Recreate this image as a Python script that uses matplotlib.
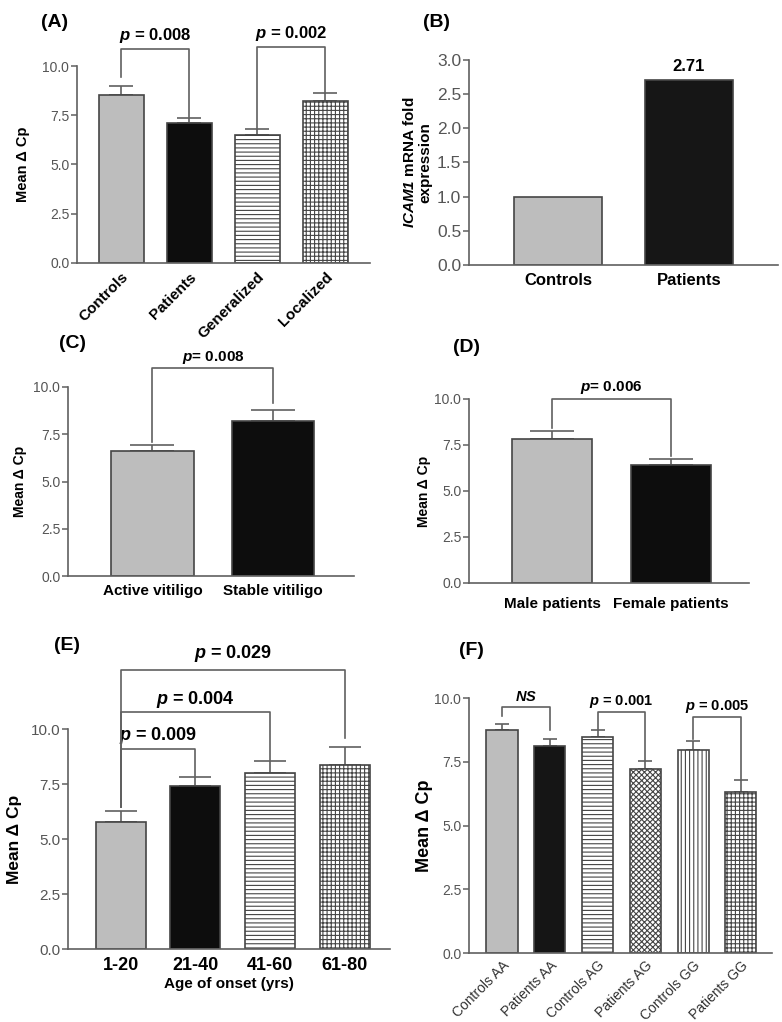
import matplotlib
matplotlib.use("Agg")
import matplotlib.pyplot as plt
import numpy as np

plt.rcParams['font.family'] = ['Liberation Sans', 'DejaVu Sans']
plt.rcParams['mathtext.fontset'] = 'custom'
plt.rcParams['mathtext.rm'] = 'Liberation Sans'
plt.rcParams['mathtext.it'] = 'Liberation Sans:italic'
plt.rcParams['mathtext.bf'] = 'Liberation Sans:bold'
plt.rcParams['mathtext.bfit'] = 'Liberation Sans:italic:bold'
plt.rcParams['hatch.color'] = '#555555'
plt.rcParams['hatch.linewidth'] = 0.8

GRAY = '#bdbdbd'
BLACK = '#0d0d0d'
LINE = '#606060'
EDGE = '#454545'

# (A) all groups
a_labels = ["Controls", "Patients", "Generalized", "Localized"]
a_means = [8.52, 7.12, 6.48, 8.20]
a_sem = [0.48, 0.24, 0.30, 0.42]
a_pairs = [(0, 1), (2, 3)]
a_bracket_y = [10.86, 10.96]
a_legs = [(9.45, 7.40), (6.80, 8.65)]
a_pvals = ["0.008", "0.002"]

# (B) fold expression
b_labels = ["Controls", "Patients"]
b_fold = [1.0, 2.71]

# (C) activity
c_labels = ["Active vitiligo", "Stable vitiligo"]
c_means = [6.62, 8.20]
c_sem = [0.32, 0.58]
c_pairs = [(0, 1)]
c_bracket_y = [11.0]
c_legs = [(7.10, 9.15)]
c_pvals = ["0.008"]

# (D) gender
d_labels = ["Male patients", "Female patients"]
d_means = [7.85, 6.43]
d_sem = [0.40, 0.32]
d_pairs = [(0, 1)]
d_bracket_y = [10.0]
d_legs = [(8.40, 6.90)]
d_pvals = ["0.006"]

# (E) age of onset
e_labels = ["1-20", "21-40", "41-60", "61-80"]
e_means = [5.78, 7.42, 8.00, 8.35]
e_sem = [0.50, 0.38, 0.55, 0.85]
e_pairs = [(0, 1), (0, 2), (0, 3)]
e_bracket_y = [9.09, 10.77, 12.70]
e_legs = [(6.45, 7.85), (6.45, 8.60), (6.45, 9.60)]
e_pvals = ["0.009", "0.004", "0.029"]

# (F) genotypes
f_labels = ["Controls AA", "Patients AA", "Controls AG", "Patients AG", "Controls GG", "Patients GG"]
f_means = [8.75, 8.12, 8.48, 7.22, 7.98, 6.32]
f_sem = [0.25, 0.28, 0.27, 0.30, 0.35, 0.45]
f_pairs = [(0, 1), (2, 3), (4, 5)]
f_bracket_y = [9.65, 9.45, 9.25]
f_legs = [(9.30, 8.75), (8.75, 7.52), (8.38, 6.80)]
f_pvals = [None, "0.001", "0.005"]


def style_axis(ax, ymax, step, size, xlim):
  ax.set_xlim(*xlim)
  ax.set_ylim(0, ymax)
  ax.set_yticks(np.arange(0, ymax + step / 2, step))
  ax.yaxis.set_major_formatter('{x:.1f}')
  for s in ['top', 'right']:
    ax.spines[s].set_visible(False)
  for s in ['left', 'bottom']:
    ax.spines[s].set_color(LINE)
    ax.spines[s].set_linewidth(1.2)
  ax.tick_params(axis='y', colors=LINE, labelcolor='#555555', labelsize=size, length=4, width=1.1, pad=1.5)
  ax.tick_params(axis='x', length=0)


def draw_bars(ax, means, sem, colors, hatches, width, capsize):
  x = np.arange(len(means))
  bars = ax.bar(x, means, width, color=colors, edgecolor=EDGE, linewidth=1.2, zorder=2)
  for b, h in zip(bars, hatches):
    if h:
      b.set_hatch(h)
  if sem is not None:
    ax.errorbar(x, means, yerr=[np.zeros(len(x)), sem], fmt='none', ecolor=LINE,
                elinewidth=1.2, capsize=capsize, capthick=1.2, zorder=1)
  return x


def draw_brackets(ax, pairs, ys, legs, texts, size, offsets, eq=" = "):
  for (i, j), y, (yl, yr), t, off in zip(pairs, ys, legs, texts, offsets):
    ax.plot([i, i, j, j], [yl, y, y, yr], color=LINE, lw=1.2, clip_on=False, zorder=3)
    if t is None:
      label = r"$\mathbfit{NS}$"
    else:
      label = r"$\mathbfit{p}$" + eq + t
    ax.text((i + j) / 2, y + off, label, ha='center', va='center', fontsize=size,
            fontweight='bold', clip_on=False)


fig = plt.figure(figsize=(7.82, 10.22), dpi=100)
W, H = 782.0, 1022.0


def axes_at(x0, x1, ytop, ybot):
  return fig.add_axes([x0 / W, 1 - ybot / H, (x1 - x0) / W, (ybot - ytop) / H])


# ---- (A)
ax = axes_at(77, 370, 66, 263)
x = draw_bars(ax, a_means, a_sem, [GRAY, BLACK, 'white', 'white'], [None, None, '----', '++++'], 0.66, 8.3)
style_axis(ax, 10, 2.5, 10, (-0.65, 3.66))
ax.set_xticks(x)
ax.set_xticklabels(a_labels, rotation=45, ha='right', rotation_mode='anchor', fontsize=11, fontweight='bold')
ax.tick_params(axis='x', pad=5)
ax.set_ylabel("Mean \u0394 Cp", fontsize=10.5, fontweight='bold')
ax.yaxis.set_label_coords(-0.16, 0.5)
draw_brackets(ax, a_pairs, a_bracket_y, a_legs, a_pvals, 12, [0.7, 0.7])

# ---- (B)
ax = axes_at(469, 778, 60, 265)
x = draw_bars(ax, b_fold, None, [GRAY, '#161616'], [None, None], 0.67, 0)
style_axis(ax, 3, 0.5, 12.5, (-0.68, 1.68))
ax.set_xticks(x)
ax.set_xticklabels(b_labels, fontsize=12, fontweight='bold')
ax.tick_params(axis='x', pad=6)
ax.set_ylabel(r"$\mathbfit{ICAM1}$ mRNA fold" + "\nexpression", fontsize=11, fontweight='bold')
ax.yaxis.set_label_coords(-0.117, 0.5)
ax.text(x[1], b_fold[1] + 0.19, f"{b_fold[1]:.2f}", ha='center', va='center', fontsize=12, fontweight='bold')

# ---- (C)
ax = axes_at(68, 354, 387, 576)
x = draw_bars(ax, c_means, c_sem, [GRAY, BLACK], [None, None], 0.68, 15.5)
style_axis(ax, 10, 2.5, 10, (-0.7, 1.67))
ax.set_xticks(x)
ax.set_xticklabels(c_labels, fontsize=11, fontweight='bold')
ax.tick_params(axis='x', pad=6)
ax.set_ylabel("Mean \u0394 Cp", fontsize=10, fontweight='bold')
ax.yaxis.set_label_coords(-0.143, 0.5)
draw_brackets(ax, c_pairs, c_bracket_y, c_legs, c_pvals, 11, [0.55], eq="= ")

# ---- (D)
ax = axes_at(469, 749, 399, 583)
x = draw_bars(ax, d_means, d_sem, [GRAY, BLACK], [None, None], 0.675, 15.5)
style_axis(ax, 10, 2.5, 10, (-0.7, 1.66))
ax.set_xticks(x)
ax.set_xticklabels(d_labels, fontsize=11, fontweight='bold')
ax.tick_params(axis='x', pad=10)
ax.set_ylabel("Mean \u0394 Cp", fontsize=10, fontweight='bold')
ax.yaxis.set_label_coords(-0.136, 0.5)
draw_brackets(ax, d_pairs, d_bracket_y, d_legs, d_pvals, 11, [0.6], eq="= ")

# ---- (E)
ax = axes_at(68, 390, 729, 949)
x = draw_bars(ax, e_means, e_sem, [GRAY, BLACK, 'white', 'white'], [None, None, '----', '++++'], 0.67, 11.5)
style_axis(ax, 10, 2.5, 11, (-0.71, 3.61))
ax.set_xticks(x)
ax.set_xticklabels(e_labels, fontsize=13, fontweight='bold')
ax.tick_params(axis='x', pad=6)
ax.set_xlabel("Age of onset (yrs)", fontsize=11, fontweight='bold', labelpad=2)
ax.set_ylabel("Mean \u0394 Cp", fontsize=12.5, fontweight='bold')
ax.yaxis.set_label_coords(-0.143, 0.5)
draw_brackets(ax, e_pairs, e_bracket_y, e_legs, e_pvals, 13, [0.62, 0.55, 0.75])

# ---- (F)
ax = axes_at(469, 772, 698, 953)
x = draw_bars(ax, f_means, f_sem, [GRAY, '#151515', 'white', 'white', 'white', 'white'],
              [None, None, '----', 'xxxxxx', '||||', '++++'], 0.65, 4.7)
style_axis(ax, 10, 2.5, 10, (-0.69, 5.65))
ax.set_xticks(x)
ax.set_xticklabels(f_labels, rotation=45, ha='right', rotation_mode='anchor', fontsize=10, color='#333333')
ax.tick_params(axis='x', pad=4)
ax.set_ylabel("Mean \u0394 Cp", fontsize=13, fontweight='bold')
ax.yaxis.set_label_coords(-0.119, 0.5)
draw_brackets(ax, f_pairs, f_bracket_y, f_legs, f_pvals, 10.5, [0.38, 0.4, 0.4])

# panel letters
for lab, px, py in [("(A)", 55, 22), ("(B)", 436, 22), ("(C)", 73, 343),
                    ("(D)", 466, 348), ("(E)", 67, 645), ("(F)", 471, 650)]:
  fig.text(px / W, 1 - py / H, lab, ha='center', va='center', fontsize=14, fontweight='bold')

fig.savefig("out.png", dpi=100)
